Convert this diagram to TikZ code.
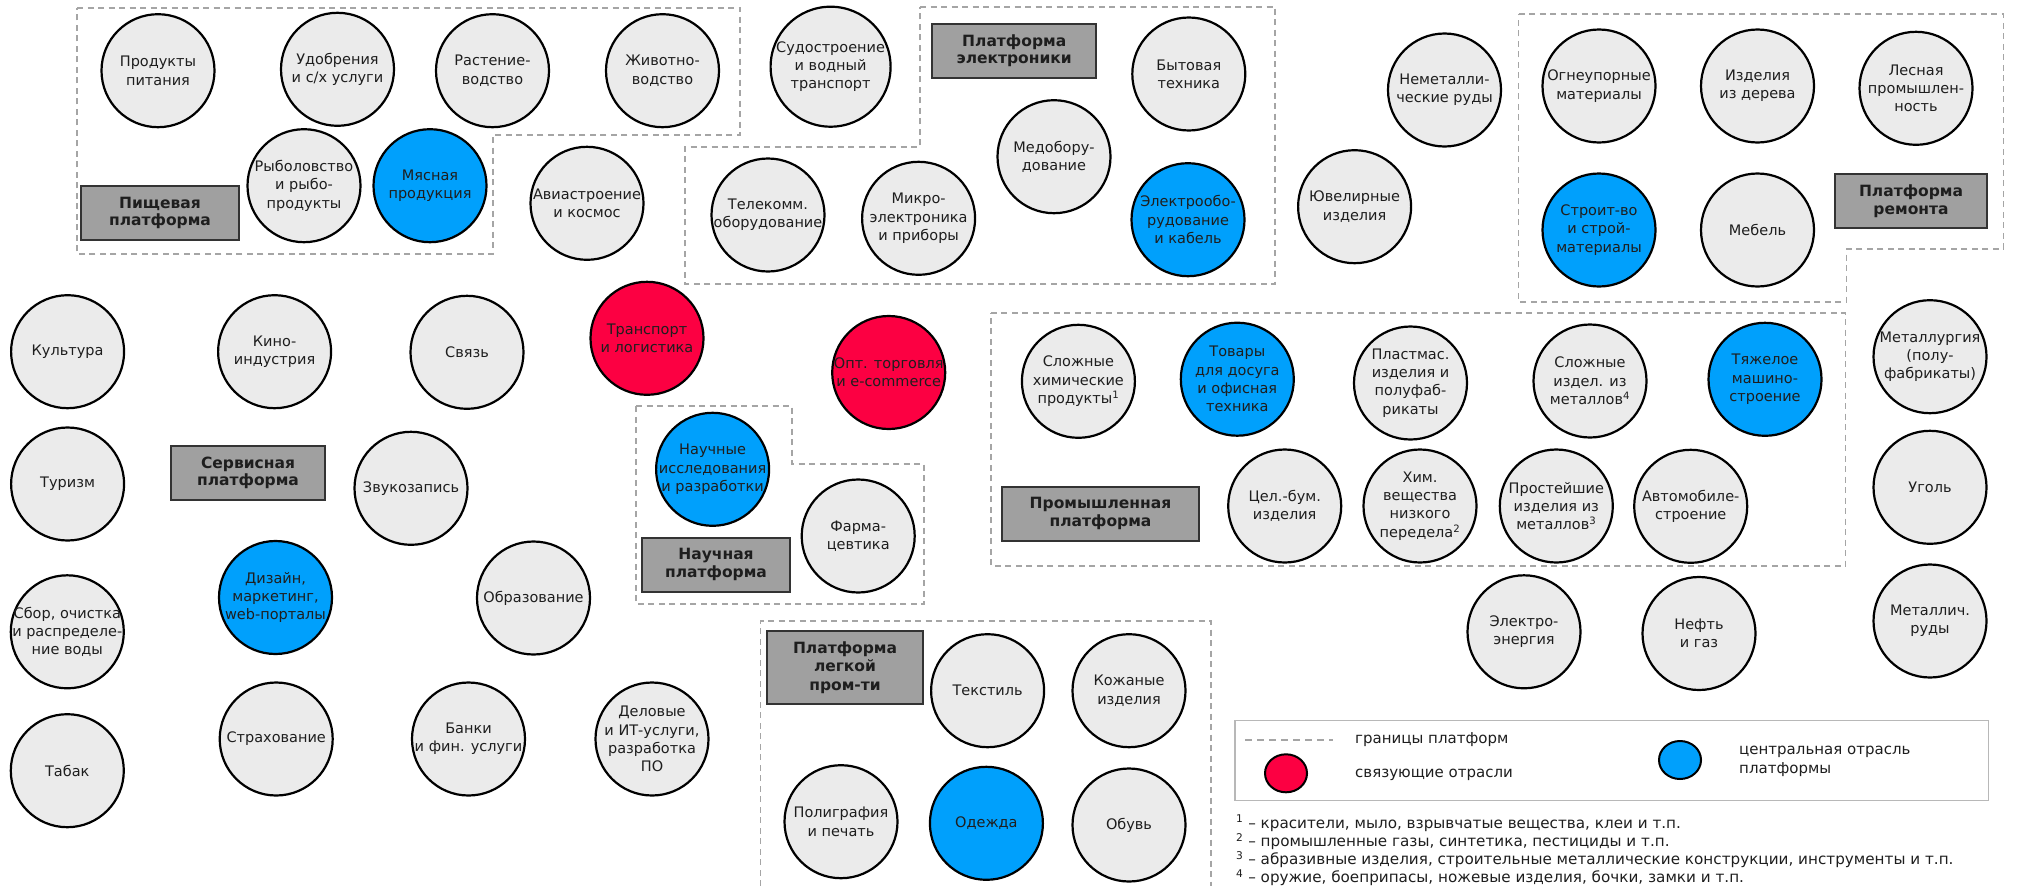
\documentclass[tikz,border=0pt]{standalone}
\usepackage{fontspec}
\setmainfont{DejaVu Sans}
\definecolor{cfill}{RGB}{235,235,235}
\definecolor{cblue}{RGB}{0,160,252}
\definecolor{cred}{RGB}{252,0,66}
\definecolor{cbox}{RGB}{160,160,160}
\definecolor{cdash}{RGB}{165,165,165}
\definecolor{ctext}{RGB}{30,30,30}
\tikzset{
  ind/.style={circle, draw=black, line width=2.2pt, fill=cfill, minimum size=113pt, inner sep=0pt},
  txt/.style={align=center, text=ctext, font=\fontsize{14.5}{18.3}\selectfont, inner sep=0pt},
  plat/.style={draw=black!80, line width=2pt, fill=cbox, text=ctext, align=center, inner sep=0pt,
    font=\bfseries\fontsize{15.5}{17.7}\selectfont},
  bound/.style={draw=cdash, line width=1.8pt, dash pattern=on 6pt off 4.5pt},
  legtxt/.style={anchor=west, inner sep=0pt, text=ctext, font=\fontsize{15}{18.5}\selectfont, align=left},
  legdot/.style={ellipse, draw=black, line width=2pt, minimum width=42pt, minimum height=38pt, inner sep=0pt},
  fn/.style={anchor=west, inner sep=0pt, text=ctext, font=\fontsize{15.2}{18}\selectfont}
}
\usetikzlibrary{shapes.geometric}
\newcommand\indnode[4][cfill]{%
  \node[ind, fill=#1] (#2) at (#3) {};
  \node[txt] (#2-t) at (#2) {#4};}
\newcommand\fnm[1]{\textsuperscript{#1}}
\begin{document}
\begin{tikzpicture}[x=1pt,y=-1pt]
\useasboundingbox (0,0) rectangle (2017,886);
% platform boundaries
\draw[bound] (77,7.7) -- (740,7.7) -- (740,135) -- (493,135) -- (493,254) -- (77,254) -- cycle;
\draw[bound] (920,6.7) -- (1275,6.7) -- (1275,284) -- (685,284) -- (685,147) -- (920,147) -- cycle;
\draw[bound] (1518.5,14.3) -- (2003.4,14.3) -- (2003.4,249.3) -- (1846.5,249.3) -- (1846.5,301.7) -- (1518.5,301.7) -- cycle;
\draw[bound] (990.8,312.7) -- (1845.5,312.7) -- (1845.5,566) -- (990.8,566) -- cycle;
\draw[bound] (636,406) -- (792,406) -- (792,464) -- (924,464) -- (924,604) -- (636,604) -- cycle;
\draw[bound] (760.4,886) -- (760.4,620.7) -- (1210.7,620.7) -- (1210.7,886);
% platform labels
\node[plat, minimum width=158pt, minimum height=54pt] (pfood) at (160,213) {Пищевая\\платформа};
\node[plat, minimum width=164.5pt, minimum height=53.7pt] (pelec) at (1014.2,50.8) {Платформа\\электроники};
\node[plat, minimum width=152pt, minimum height=54.3pt] (prep) at (1911,201.2) {Платформа\\ремонта};
\node[plat, minimum width=154pt, minimum height=54.3pt] (pserv) at (248,472.8) {Сервисная\\платформа};
\node[plat, minimum width=148pt, minimum height=54pt] (psci) at (716,564.7) {Научная\\платформа};
\node[plat, minimum width=197.5pt, minimum height=54pt] (pind) at (1100.5,513.7) {Промышленная\\платформа};
\node[plat, minimum width=156pt, minimum height=73pt, font=\bfseries\fontsize{15.5}{18.3}\selectfont] (plight) at (845,667.5) {Платформа\\легкой\\пром-ти};
% industries
\indnode{n1}{158,70.7}{Продукты\\питания}
\indnode{n2}{337.5,69.3}{Удобрения\\и с/х услуги}
\indnode{n3}{492.5,70.7}{Растение-\\водство}
\indnode{n4}{662.5,70.7}{Животно-\\водство}
\indnode{n5}{304,185.7}{Рыболовство\\и рыбо-\\продукты}
\indnode[cblue]{n6}{430,185.7}{Мясная\\продукция}
\indnode{n7}{587,203.3}{Авиастроение\\и космос}
\node[ind, minimum size=120pt] (n8) at (830.6,66.7) {};
\node[txt] (n8-t) at (n8) {Судостроение\\и водный\\транспорт};
\indnode{n9}{1188.8,74}{Бытовая\\техника}
\indnode{n10}{1054,156.7}{Медобору-\\дование}
\indnode[cblue]{n11}{1188,219.7}{Электрообо-\\рудование\\и кабель}
\indnode{n12}{768,215}{Телекомм.\\оборудование}
\indnode{n13}{918.6,218.3}{Микро-\\электроника\\и приборы}
\indnode{n14}{1354.6,206.7}{Ювелирные\\изделия}
\indnode{n15}{1444.5,90}{Неметалли-\\ческие руды}
\indnode{n16}{1599,86}{Огнеупорные\\материалы}
\indnode{n17}{1757.5,86}{Изделия\\из дерева}
\indnode{n18}{1916,88.3}{Лесная\\промышлен-\\ность}
\indnode[cblue]{n19}{1599,230}{Строит-во\\и строй-\\материалы}
\indnode{n20}{1757.5,230}{Мебель}
\indnode{n21}{67.6,351.7}{Культура}
\indnode{n22}{274.6,351.7}{Кино-\\индустрия}
\indnode{n23}{467,352.3}{Связь}
\indnode[cred]{n24}{647,338.3}{Транспорт\\и логистика}
\indnode[cred]{n25}{888.7,372.5}{Опт. торговля\\и e-commerce}
\indnode{n26}{67.6,484}{Туризм}
\indnode{n27}{411,488.3}{Звукозапись}
\indnode[cblue]{n28}{275.5,597.5}{Дизайн,\\маркетинг,\\web-порталы}
\indnode{n29}{533.5,598}{Образование}
\indnode{n30}{67.3,631.8}{Сбор, очистка\\и распределе-\\ние воды}
\indnode{n31}{67.3,770.7}{Табак}
\indnode{n32}{276.2,739}{Страхование}
\indnode{n33}{468.5,739}{Банки\\и фин. услуги}
\indnode{n34}{652,739}{Деловые\\и ИТ-услуги,\\разработка\\ПО}
\indnode[cblue]{n35}{712.6,469.3}{Научные\\исследования\\и разработки}
\indnode{n36}{858.2,536}{Фарма-\\цевтика}
\indnode{n37}{1078.4,381.3}{Сложные\\химические\\продукты\fnm{1}}
\indnode[cblue]{n38}{1237.3,379.2}{Товары\\для досуга\\и офисная\\техника}
\indnode{n39}{1410.5,383}{Пластмас.\\изделия и\\полуфаб-\\рикаты}
\indnode{n40}{1590,381}{Сложные\\издел. из\\металлов\fnm{4}}
\indnode[cblue]{n41}{1765,379.3}{Тяжелое\\машино-\\строение}
\indnode{n42}{1284.7,506}{Цел.-бум.\\изделия}
\indnode{n43}{1420,506}{Хим.\\вещества\\низкого\\передела\fnm{2}}
\indnode{n44}{1556.3,506}{Простейшие\\изделия из\\металлов\fnm{3}}
\indnode{n45}{1690.7,506.3}{Автомобиле-\\строение}
\indnode{n46}{1930,356.7}{Металлургия\\(полу-\\фабрикаты)}
\indnode{n47}{1930,487.3}{Уголь}
\indnode{n48}{1524,631.8}{Электро-\\энергия}
\indnode{n49}{1699,633.5}{Нефть\\и газ}
\indnode{n50}{1930,621}{Металлич.\\руды}
\indnode{n51}{987.6,690.7}{Текстиль}
\indnode{n52}{1129,690.7}{Кожаные\\изделия}
\indnode{n53}{841,821.7}{Полиграфия\\и печать}
\indnode[cblue]{n54}{986.4,823.3}{Одежда}
\indnode{n55}{1129,825}{Обувь}
% legend
\node[draw=black!28, line width=1.5pt, minimum width=753.4pt, minimum height=80pt, inner sep=0pt] (legend) at (1611.7,760.7) {};
\coordinate (ld1) at (1245,740);
\coordinate (ld2) at (1333,740);
\draw[bound, line width=1.5pt, dash pattern=on 7pt off 5pt] (ld1) -- (ld2);
\node[legtxt] (lt1) at (1355,739.3) {границы платформ};
\node[legdot, fill=cred] (lred) at (1286,773.3) {};
\node[legtxt] (lt2) at (1355,775) {связующие отрасли};
\node[legdot, fill=cblue] (lblue) at (1680,760) {};
\node[legtxt] (lt3) at (1739,761.5) {центральная отрасль\\платформы};
% footnotes
\node[fn] (f1) at (1236,823.3) {\fnm{1} – красители, мыло, взрывчатые вещества, клеи и т.п.};
\node[fn] (f2) at (1236,841.7) {\fnm{2} – промышленные газы, синтетика, пестициды и т.п.};
\node[fn] (f3) at (1236,860) {\fnm{3} – абразивные изделия, строительные металлические конструкции, инструменты и т.п.};
\node[fn] (f4) at (1236,877.7) {\fnm{4} – оружие, боеприпасы, ножевые изделия, бочки, замки и т.п.};
\end{tikzpicture}
\end{document}
